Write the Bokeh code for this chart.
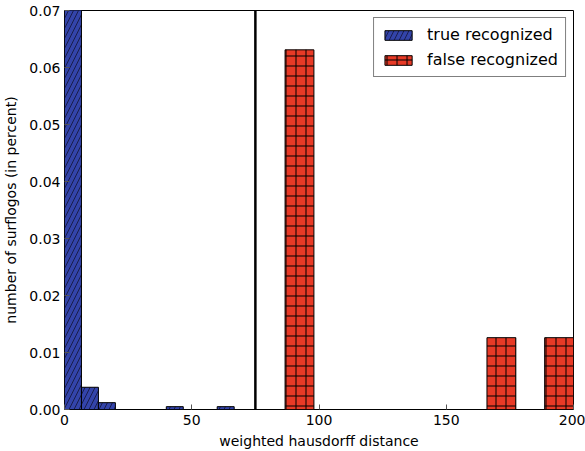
from bokeh.plotting import figure
from bokeh.models import Span, Legend, LegendItem, FixedTicker, Range1d, CustomJSTickFormatter
from bokeh.embed import file_html
from bokeh.resources import INLINE

# data
true_left = [0.0, 6.667, 13.333, 40.0, 60.0]
true_right = [6.667, 13.333, 20.0, 46.667, 66.667]
true_height = [0.25, 0.0039, 0.0012, 0.0005, 0.0005]

false_left = [86.667, 166.0, 188.667]
false_right = [98.0, 177.333, 200.0]
false_height = [0.0631, 0.0126, 0.0126]

threshold = 75
x_ticks = [0, 50, 100, 150, 200]
y_ticks = [0.0, 0.01, 0.02, 0.03, 0.04, 0.05, 0.06, 0.07]

FONT = "DejaVu Sans"

p = figure(width=585, height=451, output_backend="svg", toolbar_location=None,
           x_range=Range1d(0, 200), y_range=Range1d(0, 0.07),
           min_border_left=5, min_border_right=12, min_border_top=10, min_border_bottom=8)
p.grid.visible = False
p.outline_line_color = "black"
p.outline_line_width = 1
p.background_fill_color = "white"
p.border_fill_color = "white"

blue = p.quad(left=true_left, right=true_right, bottom=0, top=true_height,
              fill_color="#3344aa", line_color="black", line_width=1,
              hatch_pattern="/", hatch_color="#111133", hatch_scale=10, hatch_weight=0.8)
red = p.quad(left=false_left, right=false_right, bottom=0, top=false_height,
             fill_color="#e83a26", line_color="black", line_width=1,
             hatch_pattern="+", hatch_color="black", hatch_scale=10, hatch_weight=1)

p.add_layout(Span(location=threshold, dimension="height", line_color="black", line_width=2.5))

for ax in (p.xaxis[0], p.yaxis[0]):
    ax.axis_line_color = None
    ax.major_tick_in = 5
    ax.major_tick_out = 0
    ax.major_tick_line_color = "#555555"
    ax.minor_tick_line_color = None
    ax.major_label_text_font = FONT
    ax.major_label_text_font_size = "14px"
    ax.major_label_text_color = "black"
    ax.axis_label_text_font = FONT
    ax.axis_label_text_font_size = "14px"
    ax.axis_label_text_font_style = "normal"
    ax.axis_label_text_color = "black"

p.xaxis.ticker = FixedTicker(ticks=x_ticks)
p.yaxis.ticker = FixedTicker(ticks=y_ticks)
p.yaxis.formatter = CustomJSTickFormatter(code="return tick.toFixed(2);")
p.xaxis.axis_label = "weighted hausdorff distance"
p.yaxis.axis_label = "number of surflogos (in percent)"
p.xaxis.major_label_standoff = 5
p.yaxis.major_label_standoff = 4
p.xaxis.axis_label_standoff = 5
p.yaxis.axis_label_standoff = 7

legend = Legend(items=[LegendItem(label="true recognized", renderers=[blue]),
                       LegendItem(label="false recognized", renderers=[red])],
                location="top_right", label_text_font=FONT, label_text_font_size="16px",
                label_text_color="black",
                border_line_color="black", border_line_width=1,
                glyph_width=34, glyph_height=12, spacing=6, padding=7, margin=7,
                label_standoff=12)
p.add_layout(legend)

open("out.html", "w").write(file_html(p, INLINE))
